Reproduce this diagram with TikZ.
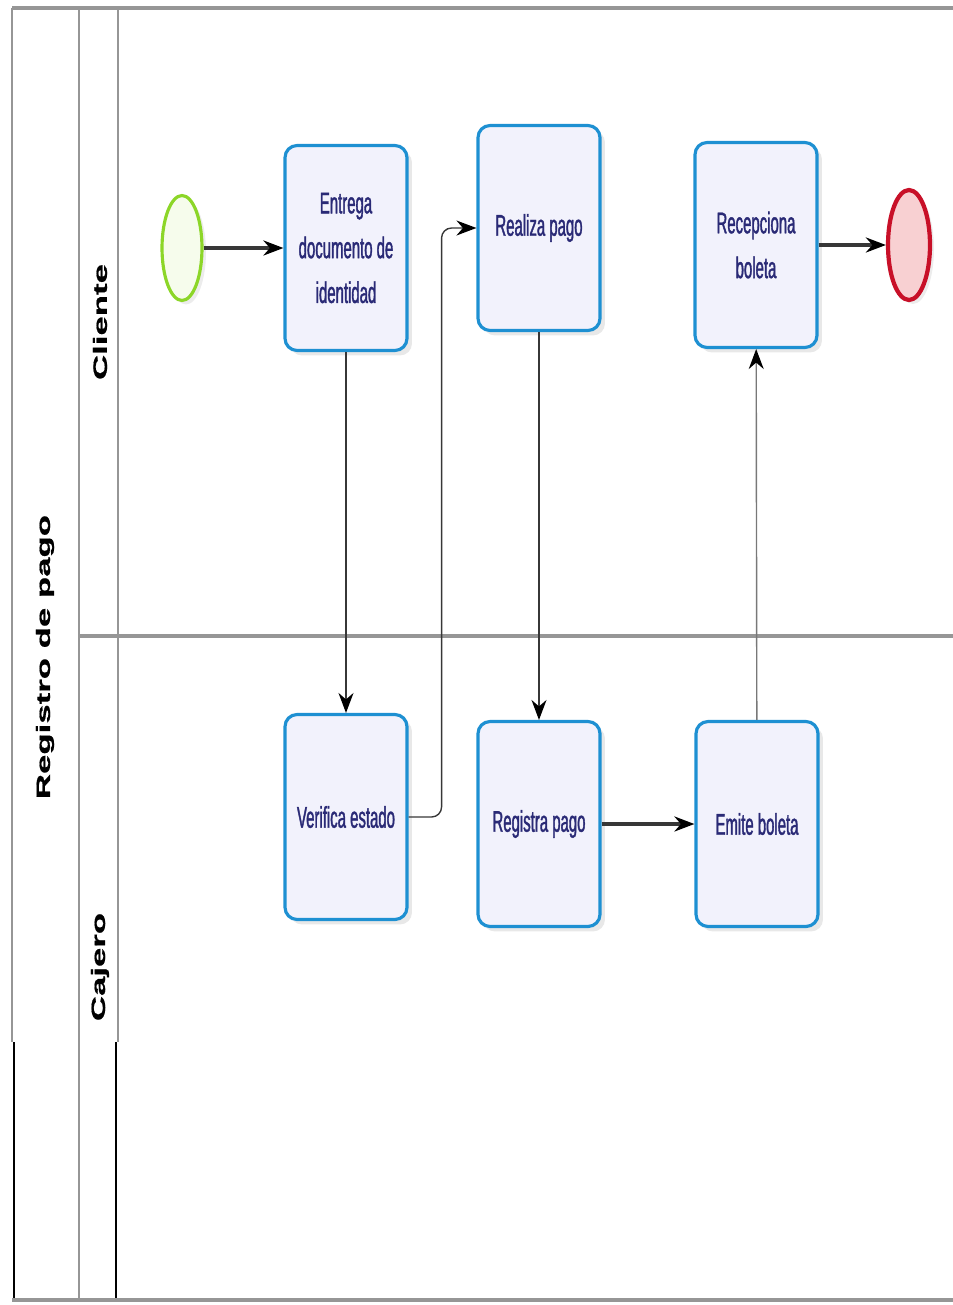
\documentclass[tikz,border=0pt]{standalone}
\usepackage{fontspec}
\setmainfont{Liberation Sans}
\newfontfamily\taskfont[FakeStretch=0.5,FakeBold=1.2]{Liberation Sans}
\newfontfamily\lanefont[FakeStretch=1.8,FakeBold=0.8]{Liberation Sans}
\usetikzlibrary{shapes.geometric,shadows,arrows.meta}
\definecolor{taskblue}{RGB}{30,144,210}
\definecolor{taskfill}{RGB}{242,242,252}
\definecolor{tasktext}{RGB}{42,42,118}
\definecolor{startgreen}{RGB}{140,214,40}
\definecolor{startfill}{RGB}{246,252,236}
\definecolor{endred}{RGB}{200,16,40}
\definecolor{endfill}{RGB}{248,208,210}
\definecolor{laneline}{RGB}{150,150,150}
\definecolor{flowline}{RGB}{55,55,55}
\tikzset{
  task/.style={draw=taskblue, line width=1.8pt, fill=taskfill, rounded corners=0.24cm,
    minimum width=2.44cm, minimum height=4.1cm, align=center, text=tasktext,
    font=\taskfont\fontsize{17}{25.5}\selectfont,
    drop shadow={opacity=0.18, shadow xshift=0.1cm, shadow yshift=-0.1cm}},
  startev/.style={ellipse, draw=startgreen, line width=1.8pt, fill=startfill,
    minimum width=0.8cm, minimum height=2.1cm,
    drop shadow={opacity=0.15, shadow xshift=0.08cm, shadow yshift=-0.08cm}},
  endev/.style={ellipse, draw=endred, line width=2.4pt, fill=endfill,
    minimum width=0.84cm, minimum height=2.2cm,
    drop shadow={opacity=0.15, shadow xshift=0.08cm, shadow yshift=-0.08cm}},
  lanelabel/.style={rotate=90, font=\lanefont\bfseries\fontsize{11}{13}\selectfont, text=black},
  tip/.style={-{Stealth[length=0.4cm,width=0.3cm,black]}},
  seqthick/.style={draw=flowline, line width=2.6pt, tip},
  seqthin/.style={draw=flowline, line width=0.8pt, tip},
  frame/.style={draw=laneline, line width=1.6pt},
  darkframe/.style={draw=black, line width=1.6pt}
}
\begin{document}
\begin{tikzpicture}[x=0.02cm, y=-0.02cm]
\useasboundingbox (0,0) rectangle (953,1305);

% pool and lane frame
\draw[frame, line width=2.6pt] (12,8) -- (953,8);
\draw[frame, line width=2.2pt] (12,1300) -- (953,1300);
\draw[frame] (12,8) -- (12,1042);
\draw[darkframe] (14,1042) -- (14,1298);
\draw[frame] (79,8) -- (79,1300);
\draw[frame] (118,8) -- (118,1042);
\draw[darkframe] (116,1042) -- (116,1298);
\draw[frame, line width=2pt] (79,636) -- (953,636);

% pool and lane labels
\node[lanelabel] (pool) at (45,657) {Registro de pago};
\node[lanelabel] (cliente) at (100,322) {Cliente};
\node[lanelabel] (cajero) at (100,967) {Cajero};

% events
\node[startev] (start) at (182,248) {};
\node[endev] (fin) at (909,245) {};

% tasks of the client lane
\node[task] (entrega) at (346,248) {Entrega\\documento de\\identidad};
\node[task] (realiza) at (539,228) {Realiza pago};
\node[task] (recep) at (756,245) {Recepciona\\boleta};

% tasks of the cashier lane
\node[task] (verifica) at (346,817) {Verifica estado};
\node[task] (registra) at (539,824) {Registra pago};
\node[task] (emite) at (757,824) {Emite boleta};

% sequence flows
\draw[seqthick] (start) -- (entrega);
\draw[seqthin] (entrega) -- (verifica);
\draw[seqthin, rounded corners=0.2cm] (verifica.east) -- ++(33,0) |- (realiza.west);
\draw[seqthin] (realiza) -- (registra);
\draw[seqthick] (registra) -- (emite);
\draw[seqthin, draw=laneline!80!black] (emite) -- (recep);
\draw[seqthick] (recep) -- (fin);
\end{tikzpicture}
\end{document}
